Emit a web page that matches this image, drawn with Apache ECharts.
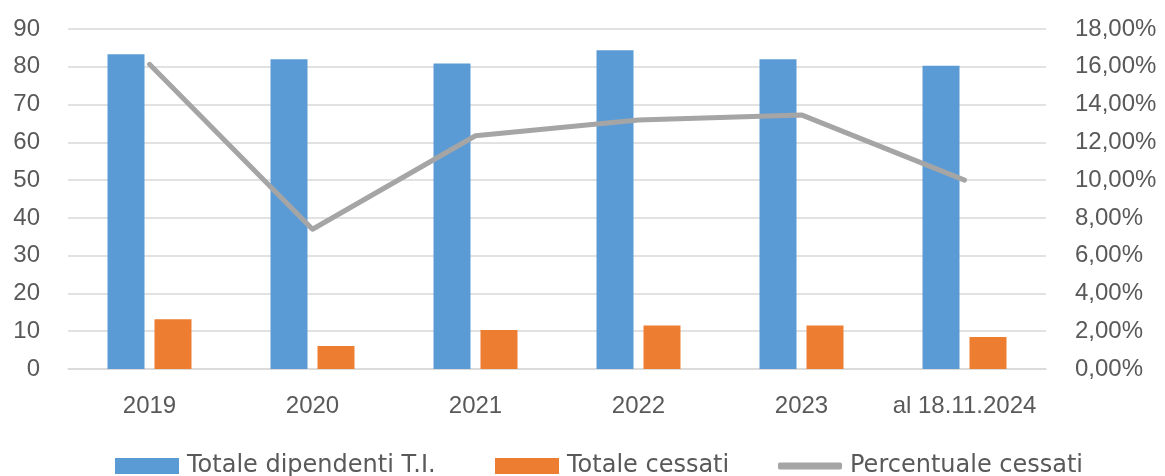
<!DOCTYPE html>
<html>
<head>
<meta charset="utf-8">
<script src="https://cdn.jsdelivr.net/npm/echarts@6/dist/echarts.min.js"></script>
<style>
  html, body { margin: 0; padding: 0; background: #fff; }
  #chart { width: 1165px; height: 476px; }
</style>
</head>
<body>
<div id="chart"></div>
<script>
var anni = ['2019', '2020', '2021', '2022', '2023', 'al 18.11.2024'];
var dipendenti = [83.3, 82.0, 80.9, 84.4, 82.0, 80.3];
var cessati = [13.2, 6.1, 10.3, 11.5, 11.5, 8.5];
var percentuale = [16.13, 7.40, 12.35, 13.18, 13.45, 10.0];
var nomi = ['Totale dipendenti T.I.', 'Totale cessati', 'Percentuale cessati'];

var font = '"Liberation Sans", sans-serif';
var fontLegenda = '"DejaVu Sans", sans-serif';
var grigioTesto = '#595959';

// legenda: tre pezzi posizionati a mano come in Excel
var legendaBase = {
	top: 449,
	itemWidth: 64,
	itemHeight: 16,
	icon: 'rect',
	textStyle: { color: grigioTesto, fontSize: 24, fontFamily: fontLegenda, padding: [0, 0, 0, 3] }
};

var myChart = echarts.init(document.getElementById('chart'));
myChart.setOption({
	animation: false,
	grid: { left: 68, right: 119, top: 29, bottom: 107 },
	legend: [
		Object.assign({}, legendaBase, { left: 110, data: [nomi[0]] }),
		Object.assign({}, legendaBase, { left: 490, data: [nomi[1]] }),
		Object.assign({}, legendaBase, {
			left: 773,
			itemHeight: 7,
			data: [{ name: nomi[2], icon: 'roundRect' }]
		})
	],
	xAxis: {
		type: 'category',
		data: anni,
		axisTick: { show: false },
		axisLine: { lineStyle: { color: '#d9d9d9', width: 1.5 } },
		axisLabel: { color: grigioTesto, fontSize: 24, fontFamily: font, margin: 25, interval: 0 }
	},
	yAxis: [
		{
			type: 'value',
			min: 0, max: 90, interval: 10,
			axisLine: { show: false },
			axisTick: { show: false },
			splitLine: { lineStyle: { color: '#d9d9d9', width: 1.5 } },
			axisLabel: { color: grigioTesto, fontSize: 24, fontFamily: font, margin: 28 }
		},
		{
			type: 'value',
			min: 0, max: 18, interval: 2,
			axisLine: { show: false },
			axisTick: { show: false },
			splitLine: { show: false },
			axisLabel: {
				color: grigioTesto, fontSize: 24, fontFamily: font, margin: 29,
				formatter: function (v) { return v.toFixed(2).replace('.', ',') + '%'; }
			}
		}
	],
	series: [
		{
			name: nomi[0],
			type: 'bar',
			data: dipendenti,
			barWidth: 37,
			barGap: '27%',
			itemStyle: { color: '#5b9bd5' }
		},
		{
			name: nomi[1],
			type: 'bar',
			data: cessati,
			barWidth: 37,
			itemStyle: { color: '#ed7d31' }
		},
		{
			name: nomi[2],
			type: 'line',
			yAxisIndex: 1,
			data: percentuale,
			symbol: 'none',
			lineStyle: { color: '#a5a5a5', width: 5, cap: 'round', join: 'round' },
			itemStyle: { color: '#a5a5a5' }
		}
	]
});
</script>
</body>
</html>
